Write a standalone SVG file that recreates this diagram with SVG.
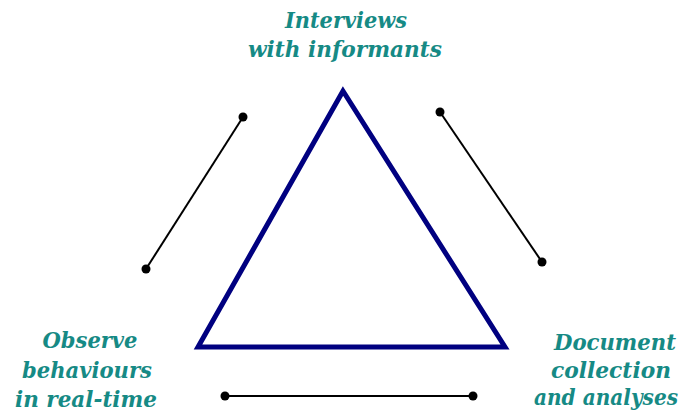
<svg xmlns="http://www.w3.org/2000/svg" width="690" height="417" viewBox="0 0 690 417">
<style>
.lbl{font-family:"DejaVu Serif","Liberation Serif",serif;font-weight:bold;font-style:italic;font-size:23px;fill:#168a85;text-anchor:middle}
.con{stroke:#000;stroke-width:2;fill:none}
.dot{fill:#000}
</style>
<rect width="690" height="417" fill="#fff"/>
<g id="triangle">
<polygon points="343,91 198,347 505,347" fill="none" stroke="#000080" stroke-width="5" stroke-linejoin="miter"/>
</g>
<g id="node-interviews">
<text class="lbl" x="346" y="28" textLength="122" lengthAdjust="spacingAndGlyphs">Interviews</text>
<text class="lbl" x="345" y="57" textLength="194" lengthAdjust="spacingAndGlyphs">with informants</text>
</g>
<g id="node-observe">
<text class="lbl" x="90" y="348" textLength="95" lengthAdjust="spacingAndGlyphs">Observe</text>
<text class="lbl" x="87" y="378" textLength="130" lengthAdjust="spacingAndGlyphs">behaviours</text>
<text class="lbl" x="86" y="407" textLength="142" lengthAdjust="spacingAndGlyphs">in real-time</text>
</g>
<g id="node-document">
<text class="lbl" x="615" y="350" textLength="122" lengthAdjust="spacingAndGlyphs">Document</text>
<text class="lbl" x="611" y="378" textLength="120" lengthAdjust="spacingAndGlyphs">collection</text>
<text class="lbl" x="606" y="405" textLength="144" lengthAdjust="spacingAndGlyphs">and analyses</text>
</g>
<g id="connectors">
<line class="con" x1="243" y1="117" x2="146" y2="269"/>
<circle class="dot" cx="243" cy="117" r="4.5"/>
<circle class="dot" cx="146" cy="269" r="4.5"/>
<line class="con" x1="440" y1="112" x2="542" y2="262"/>
<circle class="dot" cx="440" cy="112" r="4.5"/>
<circle class="dot" cx="542" cy="262" r="4.5"/>
<line class="con" x1="225" y1="396" x2="473" y2="396"/>
<circle class="dot" cx="225" cy="396" r="4.5"/>
<circle class="dot" cx="473" cy="396" r="4.5"/>
</g>
</svg>
